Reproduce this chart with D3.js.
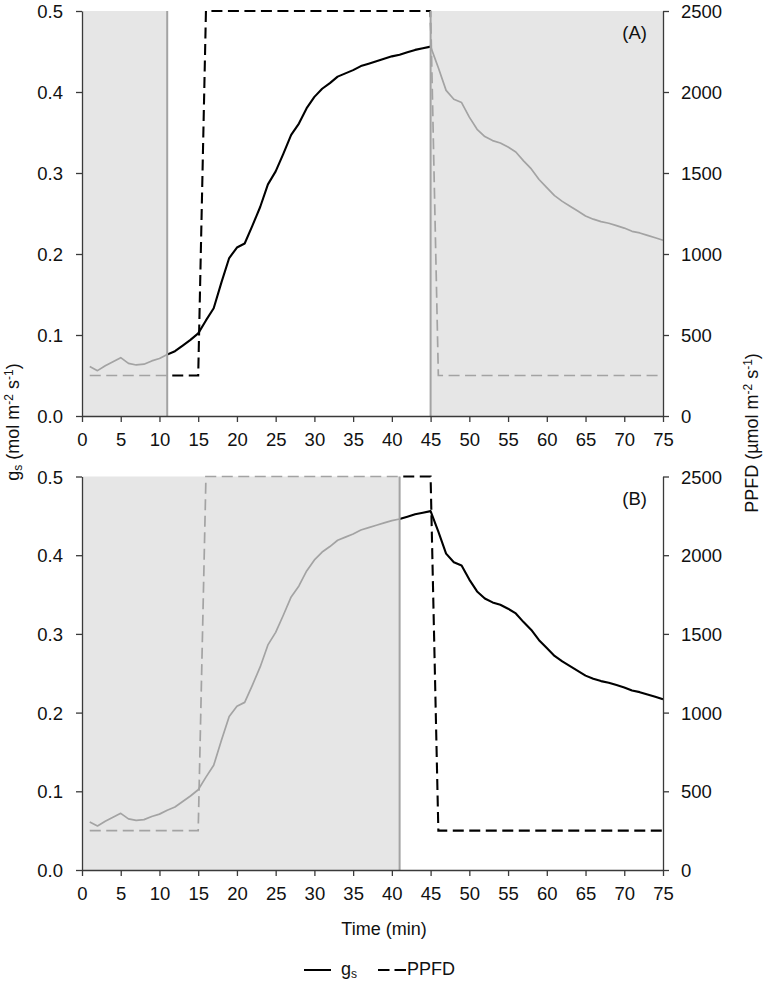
<!DOCTYPE html>
<html>
<head>
<meta charset="utf-8">
<script src="https://cdn.jsdelivr.net/npm/d3@7"></script>
<style>
  html, body { margin: 0; padding: 0; background: #fff; }
  svg text { font-family: "Liberation Sans", Arial, Helvetica, sans-serif; fill: #111; }
</style>
</head>
<body>
<svg id="chart" width="768" height="982"></svg>
<script>
// ---- Data ----
const minutes = d3.range(1, 76);
const gsValues = [
  0.061, 0.056, 0.062, 0.067, 0.072, 0.065, 0.063, 0.064, 0.068, 0.071,
  0.076, 0.080, 0.087, 0.094, 0.102, 0.118, 0.133, 0.165, 0.195, 0.208,
  0.213, 0.235, 0.258, 0.286, 0.302, 0.324, 0.347, 0.361, 0.380, 0.394,
  0.404, 0.411, 0.419, 0.423, 0.427, 0.432, 0.435, 0.438, 0.441, 0.444,
  0.446, 0.449, 0.452, 0.454, 0.456, 0.430, 0.402, 0.391, 0.387, 0.369,
  0.354, 0.345, 0.340, 0.337, 0.332, 0.326, 0.315, 0.305, 0.292, 0.282,
  0.272, 0.265, 0.259, 0.253, 0.247, 0.243, 0.240, 0.238, 0.235, 0.232,
  0.228, 0.226, 0.223, 0.220, 0.217
];
const ppfdValues = minutes.map(m => (m <= 15 || m >= 46) ? 250 : 2500);
const xTicks = d3.range(0, 80, 5);
const gsTicks = [0, 0.1, 0.2, 0.3, 0.4, 0.5];
const ppfdTicks = [0, 500, 1000, 1500, 2000, 2500];
// shaded (dark-period) intervals per panel, in minutes
const panelA = { label: "(A)", shade: [[0, 11], [45, 75]], markers: [11, 45] };
const panelB = { label: "(B)", shade: [[0, 41]], markers: [41] };

const gsData = minutes.map((m, i) => ({ t: m, v: gsValues[i] }));
const ppfdData = minutes.map((m, i) => ({ t: m, v: ppfdValues[i] }));

// ---- Layout ----
const svg = d3.select("#chart");
const x = d3.scaleLinear().domain([0, 75]).range([82, 663]);
const panels = [
  { cfg: panelA, top: 11, bottom: 416, id: "a" },
  { cfg: panelB, top: 476.5, bottom: 870, id: "b" }
];
const GRAY = "#a3a3a3";
const SHADE = "#e6e6e6";
const AXIS = "#3a3a3a";
const FONT = 18.5;
const TFONT = 18;

const defs = svg.append("defs");

panels.forEach(p => {
  const yL = d3.scaleLinear().domain([0, 0.5]).range([p.bottom, p.top]);
  const yR = d3.scaleLinear().domain([0, 2500]).range([p.bottom, p.top]);
  const g = svg.append("g");

  // shading
  p.cfg.shade.forEach(s => {
    g.append("rect")
      .attr("x", x(s[0])).attr("y", p.top)
      .attr("width", x(s[1]) - x(s[0])).attr("height", p.bottom - p.top)
      .attr("fill", SHADE);
  });

  // clip paths
  const cpGray = defs.append("clipPath").attr("id", "gray-" + p.id);
  p.cfg.shade.forEach(s => {
    cpGray.append("rect").attr("x", x(s[0]) - 2).attr("y", p.top - 10)
      .attr("width", x(s[1]) - x(s[0]) + (s[1] === 75 ? 10 : 2)).attr("height", p.bottom - p.top + 20);
  });
  const cpBlack = defs.append("clipPath").attr("id", "black-" + p.id);
  const cuts = [0];
  p.cfg.shade.forEach(s => { cuts.push(s[0], s[1]); });
  cuts.push(75);
  for (let i = 0; i < cuts.length; i += 2) {
    const a = cuts[i], b = cuts[i + 1];
    if (b > a) {
      cpBlack.append("rect").attr("x", x(a)).attr("y", p.top - 10)
        .attr("width", x(b) - x(a) + (b === 75 ? 10 : 0)).attr("height", p.bottom - p.top + 20);
    }
  }

  const lineGs = d3.line().x(d => x(d.t)).y(d => yL(d.v));
  const linePp = d3.line().x(d => x(d.t)).y(d => yR(d.v));

  [["gray-" + p.id, GRAY, 1.7], ["black-" + p.id, "#000", 2.1]].forEach(([cid, col, w]) => {
    const cg = g.append("g").attr("clip-path", `url(#${cid})`);
    cg.append("path").datum(ppfdData).attr("d", linePp)
      .attr("fill", "none").attr("stroke", col).attr("stroke-width", w)
      .attr("stroke-dasharray", "11,5.5");
    cg.append("path").datum(gsData).attr("d", lineGs)
      .attr("fill", "none").attr("stroke", col).attr("stroke-width", w)
      .attr("stroke-linejoin", "round");
  });

  // marker lines at shade boundaries
  p.cfg.markers.forEach(m => {
    g.append("line").attr("x1", x(m)).attr("x2", x(m))
      .attr("y1", p.top).attr("y2", p.bottom)
      .attr("stroke", GRAY).attr("stroke-width", 2);
  });

  // axes
  const ax = g.append("g").attr("transform", `translate(0,${p.bottom})`)
    .call(d3.axisBottom(x).tickValues(xTicks).tickSize(6).tickPadding(11).tickSizeOuter(0));
  const al = g.append("g").attr("transform", `translate(${x(0)},0)`)
    .call(d3.axisLeft(yL).tickValues(gsTicks).tickFormat(d3.format(".1f")).tickSize(6).tickPadding(13).tickSizeOuter(0));
  const ar = g.append("g").attr("transform", `translate(${x(75)},0)`)
    .call(d3.axisRight(yR).tickValues(ppfdTicks).tickFormat(d3.format("d")).tickSize(6).tickPadding(12).tickSizeOuter(0));
  [ax, al, ar].forEach(a => {
    a.attr("font-size", FONT).attr("font-family", '"Liberation Sans", Arial, sans-serif');
    a.select(".domain").attr("stroke", AXIS).attr("stroke-width", 1.3);
    a.selectAll(".tick line").attr("stroke", AXIS).attr("stroke-width", 1.3);
    a.selectAll(".tick text").attr("font-size", FONT).attr("fill", "#111");
  });
  al.selectAll(".tick text").attr("dy", "0.36em");
  ar.selectAll(".tick text").attr("dy", "0.36em");

  // panel label
  g.append("text").attr("x", x(75) - 16).attr("y", p.top + 28)
    .attr("text-anchor", "end").attr("font-size", FONT).text(p.cfg.label);
});

// axis titles
const lt = svg.append("text")
  .attr("transform", "translate(19,422) rotate(-90)")
  .attr("text-anchor", "middle").attr("font-size", TFONT);
lt.append("tspan").text("g");
lt.append("tspan").attr("font-size", 12).attr("dy", 3).text("s");
lt.append("tspan").attr("dy", -3).text(" (mol m");
lt.append("tspan").attr("font-size", 12).attr("dy", -6).text("-2");
lt.append("tspan").attr("dy", 6).text(" s");
lt.append("tspan").attr("font-size", 12).attr("dy", -6).text("-1");
lt.append("tspan").attr("dy", 6).text(")");

const rt = svg.append("text")
  .attr("transform", "translate(758,433) rotate(-90)")
  .attr("text-anchor", "middle").attr("font-size", TFONT);
rt.append("tspan").text("PPFD (µmol m");
rt.append("tspan").attr("font-size", 12).attr("dy", -6).text("-2");
rt.append("tspan").attr("dy", 6).text(" s");
rt.append("tspan").attr("font-size", 12).attr("dy", -6).text("-1");
rt.append("tspan").attr("dy", 6).text(")");

svg.append("text").attr("x", 384).attr("y", 935)
  .attr("text-anchor", "middle").attr("font-size", TFONT).text("Time (min)");

// legend
const lg = svg.append("g");
lg.append("line").attr("x1", 304).attr("x2", 331).attr("y1", 970).attr("y2", 970)
  .attr("stroke", "#000").attr("stroke-width", 2);
const lgt = lg.append("text").attr("x", 341).attr("y", 975).attr("font-size", TFONT);
lgt.append("tspan").text("g");
lgt.append("tspan").attr("font-size", 12).attr("dy", 3).text("s");
lg.append("line").attr("x1", 378).attr("x2", 407).attr("y1", 970).attr("y2", 970)
  .attr("stroke", "#000").attr("stroke-width", 2).attr("stroke-dasharray", "11.5,5");
lg.append("text").attr("x", 407).attr("y", 975).attr("font-size", TFONT).text("PPFD");
</script>
</body>
</html>
